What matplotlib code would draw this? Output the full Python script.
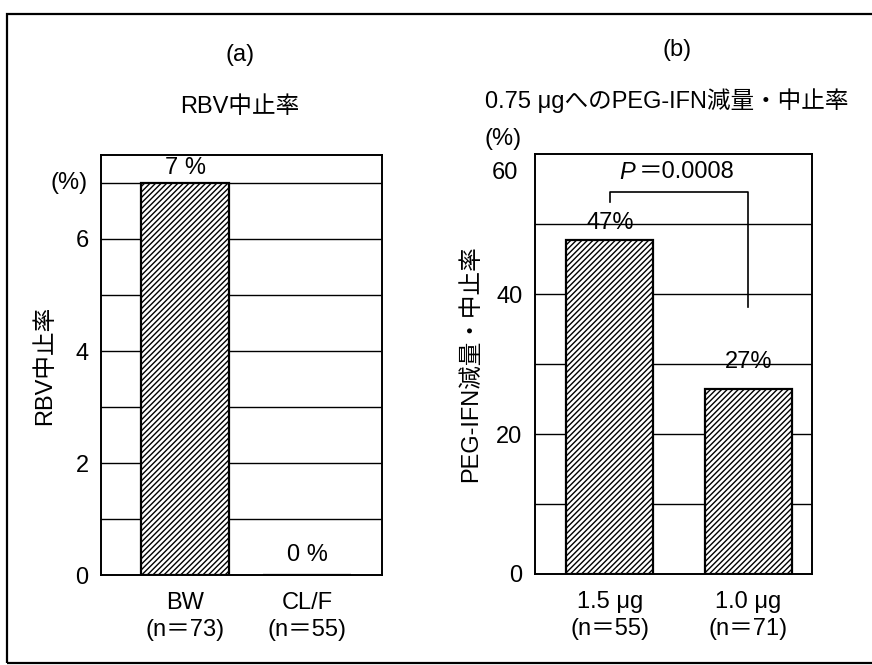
import numpy as np
import matplotlib
matplotlib.use("Agg")
import matplotlib.pyplot as plt
from matplotlib.patches import Rectangle

plt.rcParams['font.family'] = ['Liberation Sans', 'Noto Sans CJK JP', 'DejaVu Sans']
plt.rcParams['hatch.linewidth'] = 1.0

# (a) RBV discontinuation
groups_a = ["BW\n(n＝73)", "CL/F\n(n＝55)"]
rate_a = [7, 0]
labels_a = ["7 %", "0 %"]
yticks_a = [0, 2, 4, 6]

# (b) PEG-IFN dose reduction / discontinuation to 0.75 µg
groups_b = ["1.5 μg\n(n＝55)", "1.0 μg\n(n＝71)"]
rate_b = [47.7, 26.5]
labels_b = ["47%", "27%"]
yticks_b = [0, 20, 40, 60]
p_text = "P"
p_value = "＝0.0008"

W, H = 872, 665
fig = plt.figure(figsize=(W / 100, H / 100), dpi=100)


def fx(px):
    return px / W


def fy(py):
    return 1 - py / H


# outer frame
fig.add_artist(Rectangle((fx(7), fy(663)), 1.0, fy(14) - fy(663), transform=fig.transFigure,
                         fill=False, edgecolor='black', linewidth=1.6))

axa = fig.add_axes([fx(101), fy(575), fx(382) - fx(101), fy(155) - fy(575)])
axb = fig.add_axes([fx(535), fy(574), fx(812) - fx(535), fy(154) - fy(574)])

fs = 17

# ---- panel (a)
xa = np.arange(len(groups_a))
axa.set_xlim(-0.69, 1.61)
axa.set_ylim(0, 7.5)
for g in range(1, 8):
    axa.axhline(g, color='black', lw=1.0, zorder=1)
axa.bar(xa, rate_a, width=0.72, color='white', edgecolor='black', hatch='//////',
        linewidth=1.6, zorder=2)
axa.text(xa[0], 7.27, labels_a[0], ha='center', va='center', fontsize=fs)
axa.text(xa[1], 0.36, labels_a[1], ha='center', va='center', fontsize=fs)
axa.set_yticks(yticks_a)
axa.set_xticks(xa)
axa.set_xticklabels(groups_a, linespacing=1.3)
axa.set_ylabel("RBV中止率", fontsize=fs, labelpad=14)
axa.text(-0.114, 7.0, "(%)", transform=axa.get_yaxis_transform(), ha='center', va='center',
         fontsize=fs)

# ---- panel (b)
xb = np.arange(len(groups_b))
axb.set_xlim(-0.54, 1.46)
axb.set_ylim(0, 60)
for g in range(10, 60, 10):
    axb.axhline(g, color='black', lw=1.0, zorder=1)
axb.bar(xb, rate_b, width=0.63, color='white', edgecolor='black', hatch='//////',
        linewidth=1.6, zorder=2)
axb.text(xb[0], rate_b[0] + 2.4, labels_b[0], ha='center', va='center', fontsize=fs, zorder=3)
axb.text(xb[1], rate_b[1] + 3.8, labels_b[1], ha='center', va='center', fontsize=fs, zorder=3)
axb.plot([xb[0], xb[0], xb[1], xb[1]], [53.1, 54.6, 54.6, 38.1], color='black', lw=1.2,
         zorder=3)
fig.text(fx(627), fy(172), p_text, ha='center', va='center', fontsize=fs, style='italic')
fig.text(fx(639), fy(172), p_value, ha='left', va='center', fontsize=fs)
# the top label ("60") sits a little below the frame top in the reference
axb.set_yticks(yticks_b, [str(v) for v in yticks_b[:-1]] + [""])
fig.text(fx(518), fy(173), str(yticks_b[-1]), ha='right', va='center', fontsize=fs)
axb.set_xticks(xb)
axb.set_xticklabels(groups_b, linespacing=1.3)
axb.set_ylabel("PEG-IFN減量・中止率", fontsize=fs, labelpad=10)
fig.text(fx(503), fy(139), "(%)", ha='center', va='center', fontsize=fs)

for ax in (axa, axb):
    ax.tick_params(axis='both', length=0, labelsize=fs)
    ax.tick_params(axis='y', pad=9)
    ax.tick_params(axis='x', pad=12)
    for s in ax.spines.values():
        s.set_linewidth(1.4)
    ax.set_axisbelow(True)

# titles
fig.text(fx(240), fy(55), "(a)", ha='center', va='center', fontsize=fs)
fig.text(fx(240), fy(107), "RBV中止率", ha='center', va='center', fontsize=fs)
fig.text(fx(677), fy(50), "(b)", ha='center', va='center', fontsize=fs)
fig.text(fx(667), fy(101), "0.75 μgへのPEG-IFN減量・中止率", ha='center', va='center', fontsize=fs)

fig.savefig("out.png", dpi=100)
